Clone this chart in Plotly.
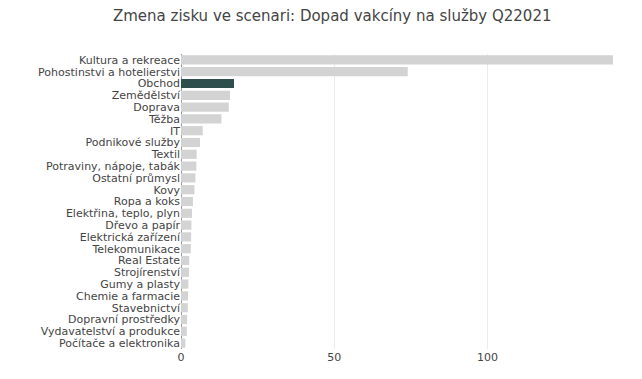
import plotly.graph_objects as go

categories = ["Kultura a rekreace", "Pohostinstvi a hotelierstvi", "Obchod", "Zemědělství",
              "Doprava", "Těžba", "IT", "Podnikové služby", "Textil",
              "Potraviny, nápoje, tabák", "Ostatní průmysl", "Kovy", "Ropa a koks",
              "Elektřina, teplo, plyn", "Dřevo a papír", "Elektrická zařízení",
              "Telekomunikace", "Real Estate", "Strojírenství", "Gumy a plasty",
              "Chemie a farmacie", "Stavebnictví", "Dopravní prostředky",
              "Vydavatelství a produkce", "Počítače a elektronika"]
values = [141.0, 74.0, 17.3, 16.0, 15.6, 13.2, 7.1, 6.2, 5.1, 5.0, 4.7, 4.4, 3.9,
          3.6, 3.4, 3.3, 3.2, 2.7, 2.6, 2.4, 2.3, 2.2, 2.0, 1.9, 1.4]
highlight = "Obchod"

colors = ["#2f4f4f" if c == highlight else "#d3d3d3" for c in categories]

fig = go.Figure(go.Bar(
    x=values, y=categories, orientation="h",
    marker=dict(color=colors, line=dict(width=0)),
))

fig.update_layout(
    width=642, height=379,
    title=dict(text="Zmena zisku ve scenari: Dopad vakcíny na služby Q22021",
               x=0.505, xanchor="center", y=0.98, yanchor="middle",
               font=dict(family="DejaVu Sans", size=15, color="#444")),
    font=dict(family="DejaVu Sans", size=11, color="#444"),
    paper_bgcolor="white", plot_bgcolor="white",
    margin=dict(l=173, r=37, t=46, b=38, autoexpand=False),
    bargap=0.22,
    showlegend=False,
)
fig.update_xaxes(range=[0, 141], tickvals=[0, 50, 100], showgrid=True,
                 gridcolor="#ebebeb", zeroline=True, zerolinecolor="#999",
                 zerolinewidth=1, ticks="", tickfont=dict(size=11), automargin=False)
fig.update_yaxes(autorange="reversed", ticks="", showgrid=False,
                 tickmode="array", tickvals=categories, ticktext=categories,
                 tickfont=dict(size=11), automargin=False)

fig.write_html("out.html")
